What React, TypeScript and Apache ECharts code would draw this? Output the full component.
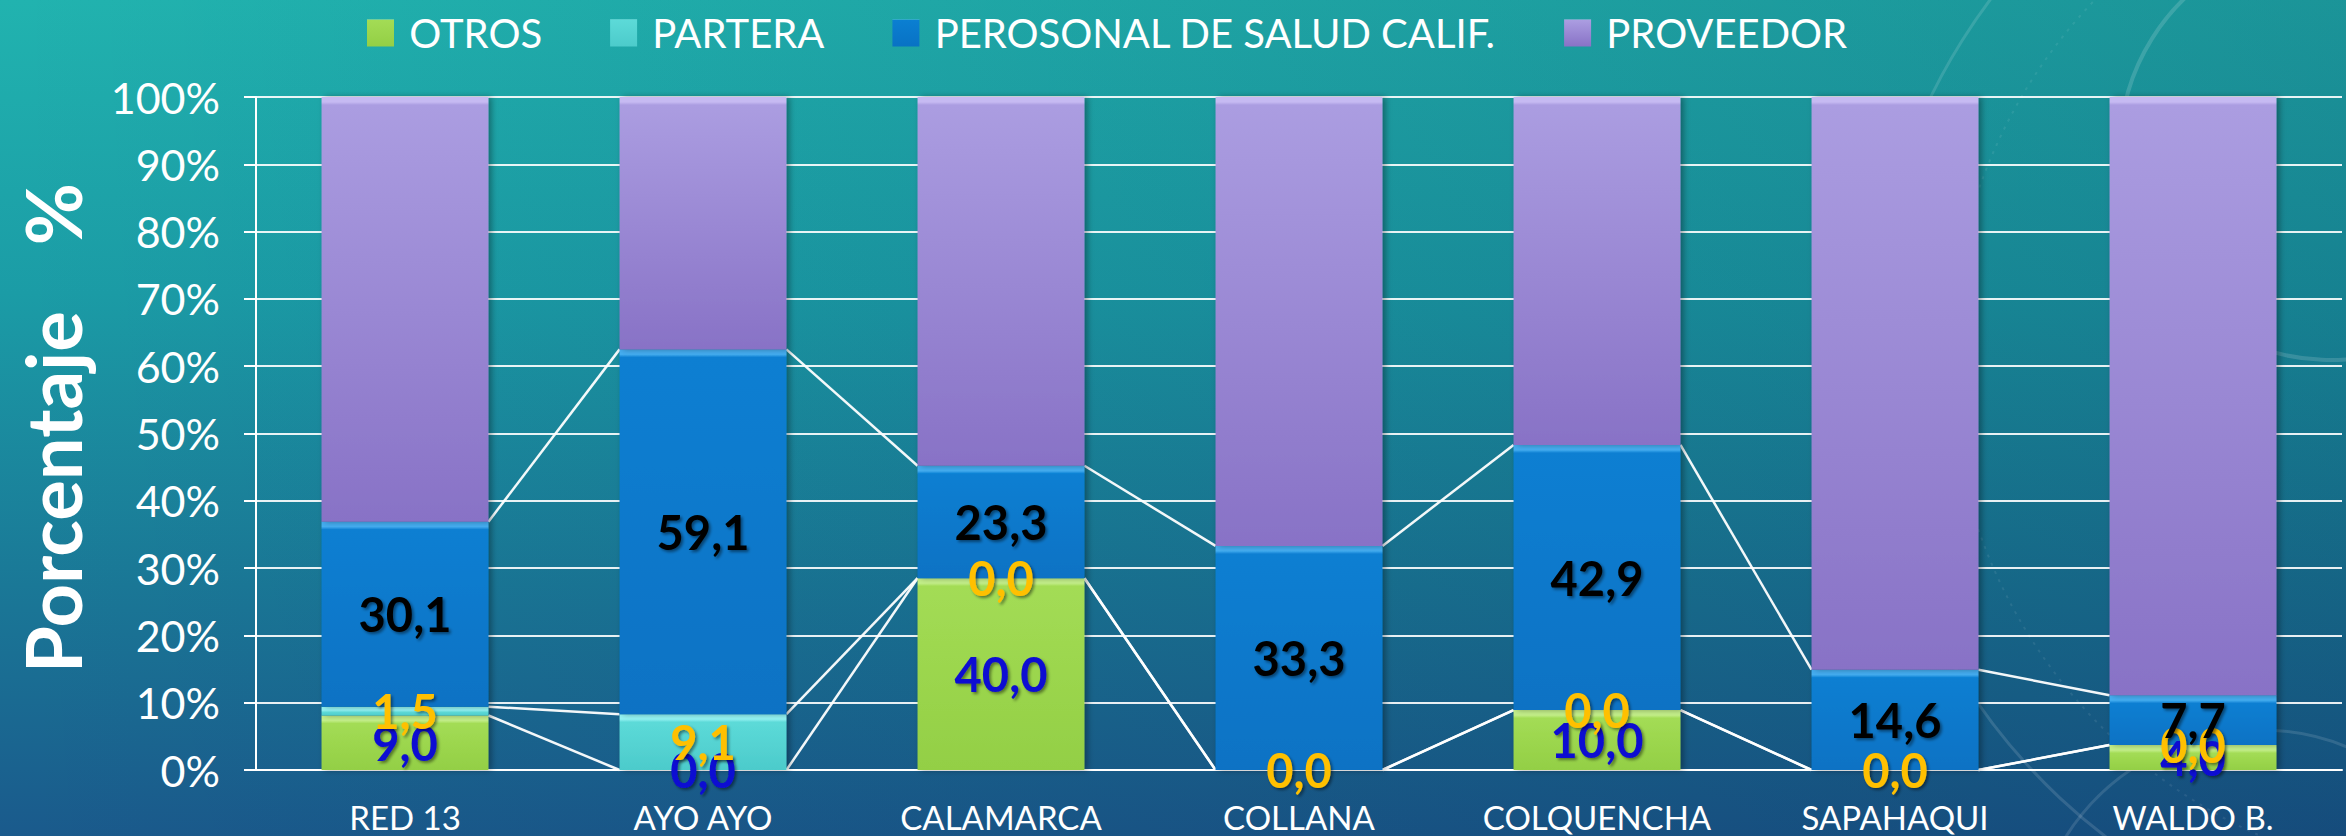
import React, { useEffect, useRef } from "react";
import * as echarts from "echarts";

const categories = ["RED 13", "AYO AYO", "CALAMARCA", "COLLANA", "COLQUENCHA", "SAPAHAQUI", "WALDO B."];
const seriesNames = ["OTROS", "PARTERA", "PEROSONAL DE SALUD CALIF.", "PROVEEDOR"];

// segment heights (share of 100%)
const otros = [8.1, 0, 28.5, 0, 8.9, 0, 3.7];
const partera = [1.3, 8.3, 0, 0, 0, 0, 0];
const personal = [27.5, 54.2, 16.7, 33.3, 39.4, 14.9, 7.4];
const proveedor = [63.1, 37.5, 54.8, 66.7, 51.7, 85.1, 88.9];

// data-label texts shown on segments
const otrosLabels = [9.0, 0.0, 40.0, null, 10.0, null, 4.0];
const parteraLabels = [1.5, 9.1, 0.0, 0.0, 0.0, 0.0, 0.0];
const personalLabels = [30.1, 59.1, 23.3, 33.3, 42.9, 14.6, 7.7];

const yTickValues = [0, 10, 20, 30, 40, 50, 60, 70, 80, 90, 100];

const FONT = "Lato, 'Open Sans', sans-serif";

const palettes = [
  { band: "#c4f08a", top: "#a3dc55", bottom: "#93cf45" },
  { band: "#94f4f4", top: "#5cdad8", bottom: "#4ccbcb" },
  { band: "#45aef2", top: "#0b7fd2", bottom: "#0872c4" },
  { band: "#c6baf2", top: "#ab9de1", bottom: "#8872c6" },
];

function grad(p: any, v: number) {
  const f = v > 0 ? Math.min(0.4, 5 / (v * 6.73)) : 0.02;
  return new echarts.graphic.LinearGradient(0, 0, 0, 1, [
    { offset: 0, color: p.band },
    { offset: f, color: p.band },
    { offset: Math.min(0.99, f * 1.6), color: p.top },
    { offset: 1, color: p.bottom },
  ]);
}

function fmt(v: number | null) {
  if (v === null || v === undefined) return "";
  return v.toFixed(1).replace(".", ",");
}

export default function App() {
  const ref = useRef<HTMLDivElement>(null);
  useEffect(() => {
    if (!ref.current) return;
    const chart = echarts.init(ref.current, null, { renderer: "svg" });

    const segs = [otros, partera, personal, proveedor];
    const labelSets = [otrosLabels, parteraLabels, personalLabels, null];
    const labelColors = ["#0a0ad2", "#ffc000", "#000000", "#000000"];

    const cum = (arrs: number[][], i: number) => arrs.reduce((s, a) => s + a[i], 0);
    const lineData = categories.slice(0, -1).map((_, i) => [
      i,
      cum([otros], i),
      cum([otros, partera], i),
      cum([otros, partera, personal], i),
      cum([otros], i + 1),
      cum([otros, partera], i + 1),
      cum([otros, partera, personal], i + 1),
    ]);

    const barSeries = seriesNames.map((name, si) => {
      const labels = labelSets[si];
      return {
        name,
        type: "bar",
        stack: "total",
        barWidth: "56%",
        z: 2,
        itemStyle: {
          color: grad(palettes[si], 50),
          shadowColor: "rgba(0,0,0,0.35)",
          shadowBlur: 6,
          shadowOffsetX: 3,
        },
        label: labels
          ? {
              show: true,
              position: "inside",
              formatter: (p: any) => fmt(labels[p.dataIndex]),
              color: labelColors[si],
              fontFamily: FONT,
              fontWeight: "bold",
              fontSize: 47,
              textShadowColor: "rgba(0,0,0,0.45)",
              textShadowBlur: 3,
              textShadowOffsetX: 2,
              textShadowOffsetY: 2,
            }
          : { show: false },
        data: segs[si].map((v) => ({ value: v, itemStyle: { color: grad(palettes[si], v) } })),
      };
    });

    const linesSeries = {
      type: "custom",
      name: "lines",
      z: 1,
      silent: true,
      encode: { x: 0, y: 1 },
      data: lineData,
      renderItem: (params: any, api: any) => {
        const i = api.value(0);
        const half = api.size([1, 0])[0] * 0.28;
        const children = [1, 2, 3].map((k) => {
          const a = api.coord([i, api.value(k)]);
          const b = api.coord([i + 1, api.value(k + 3)]);
          return {
            type: "line",
            shape: { x1: a[0] + half, y1: a[1], x2: b[0] - half, y2: b[1] },
            style: { stroke: "rgba(255,255,255,0.95)", lineWidth: 2.5 },
          };
        });
        return { type: "group", children };
      },
    };

    const titleFont = "bold 76px " + FONT;

    chart.setOption({
      animation: false,
      backgroundColor: "transparent",
      textStyle: { fontFamily: FONT },
      graphic: [
        { type: "circle", z: 0, silent: true, shape: { cx: 2470, cy: 360, r: 600 }, style: { fill: "none", stroke: "rgba(255,255,255,0.13)", lineWidth: 3 } },
        { type: "circle", z: 0, silent: true, shape: { cx: 2470, cy: 360, r: 520 }, style: { fill: "none", stroke: "rgba(255,255,255,0.08)", lineWidth: 2, lineDash: [3, 6] } },
        { type: "circle", z: 0, silent: true, shape: { cx: 2330, cy: 150, r: 210 }, style: { fill: "none", stroke: "rgba(255,255,255,0.15)", lineWidth: 4 } },
        { type: "circle", z: 0, silent: true, shape: { cx: 2260, cy: 960, r: 230 }, style: { fill: "none", stroke: "rgba(255,255,255,0.12)", lineWidth: 3 } },
        {
          type: "text",
          z: 10,
          x: 52,
          y: 492,
          rotation: Math.PI / 2,
          style: { text: "Porcentaje", fill: "#ffffff", font: titleFont, align: "center", verticalAlign: "middle" },
        },
        {
          type: "text",
          z: 10,
          x: 52,
          y: 214,
          rotation: Math.PI / 2,
          style: { text: "%", fill: "#ffffff", font: titleFont, align: "center", verticalAlign: "middle" },
        },
      ],
      legend: {
        data: seriesNames,
        left: 362,
        top: 8,
        icon: "rect",
        itemWidth: 27,
        itemHeight: 27,
        itemGap: 68,
        formatter: (n: string) => " " + n,
        textStyle: { color: "#ffffff", fontSize: 40, fontFamily: FONT },
      },
      grid: { left: 256, right: 4, top: 97, bottom: 66, containLabel: false },
      xAxis: {
        type: "category",
        data: categories,
        axisLine: { show: true, lineStyle: { color: "#ffffff", width: 2 } },
        axisTick: { show: false },
        axisLabel: { color: "#ffffff", fontSize: 33, fontFamily: FONT, margin: 30 },
      },
      yAxis: {
        type: "value",
        min: 0,
        max: 100,
        interval: 10,
        axisLine: { show: true, lineStyle: { color: "#ffffff", width: 2 } },
        axisTick: { show: true, length: 12, lineStyle: { color: "#ffffff", width: 2 } },
        splitLine: { show: true, lineStyle: { color: "rgba(255,255,255,0.9)", width: 2 } },
        axisLabel: {
          color: "#ffffff",
          fontSize: 43,
          fontFamily: FONT,
          margin: 36,
          formatter: (v: number) => (yTickValues.includes(v) ? v + "%" : ""),
        },
      },
      series: [linesSeries, ...barSeries],
    });
    return () => chart.dispose();
  }, []);

  return (
    <div
      style={{
        position: "fixed",
        left: 0,
        top: 0,
        width: 2346,
        height: 836,
        background:
          "linear-gradient(to right, rgba(0,0,0,0) 0%, rgba(0,10,50,0.18) 100%), linear-gradient(to bottom, #21b3af 0%, #1b9ca6 35%, #1a7897 70%, #1a5a8c 100%)",
      }}
    >
      <div ref={ref} style={{ width: 2346, height: 836 }} />
    </div>
  );
}
